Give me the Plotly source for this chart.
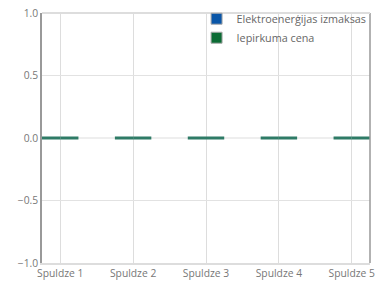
import plotly.graph_objects as go

categories = ["Spuldze 1", "Spuldze 2", "Spuldze 3", "Spuldze 4", "Spuldze 5"]
elektro = [0, 0, 0, 0, 0]
iepirkuma = [0, 0, 0, 0, 0]
series_names = ["Elektroenerģijas izmaksas", "Iepirkuma cena"]
series_colors = ["#0a56a8", "#0b6b34"]
y_ticks = [-1.0, -0.5, 0.0, 0.5, 1.0]

fig = go.Figure()
for vals in (elektro, iepirkuma):
    fig.add_trace(go.Bar(
        x=categories, y=vals, showlegend=False,
        marker=dict(color="#2e7b66", line=dict(color="#2e7b66", width=3)),
        hoverinfo="skip",
    ))
for name, col in zip(series_names, series_colors):
    fig.add_trace(go.Scatter(
        x=[None], y=[None], mode="markers", name=name,
        marker=dict(symbol="square", size=11, color=col,
                    line=dict(color="#aaaaaa", width=1)),
    ))

fig.update_layout(
    width=378, height=281,
    margin=dict(l=42, r=8, t=13, b=18, autoexpand=False),
    paper_bgcolor="white", plot_bgcolor="white",
    font=dict(family="Open Sans", size=10.3, color="#777777"),
    barmode="group", bargap=0.5, bargroupgap=0,
    showlegend=True,
    legend=dict(x=0.983, y=0.985, xref="container", yref="container",
                xanchor="right", yanchor="top",
                bgcolor="rgba(255,255,255,0)", font=dict(size=10.8, color="#666666"),
                itemwidth=30, tracegroupgap=0),
    xaxis=dict(showgrid=True, gridcolor="#dddddd", gridwidth=1,
               showline=True, linecolor="#dddddd", linewidth=2, mirror=False,
               ticks="", tickfont=dict(size=10.3, color="#777777"),
               ticklabeloverflow="allow", automargin=False,
               range=[-0.25, 4.25]),
    yaxis=dict(range=[-1, 1], tickvals=y_ticks, tickformat=".1f",
               showgrid=True, gridcolor="#e2e2e2", zeroline=True,
               zerolinecolor="#eeeeee", zerolinewidth=2,
               showline=True, linecolor="#999999", linewidth=1.5,
               ticklabeloverflow="allow", automargin=False,
               ticks="", tickfont=dict(size=10.3, color="#777777")),
)
fig.add_shape(type="line", xref="paper", yref="paper", x0=1, x1=1, y0=0, y1=1,
              line=dict(color="#999999", width=1.5))
fig.add_shape(type="line", xref="paper", yref="paper", x0=0, x1=1, y0=1, y1=1,
              line=dict(color="#dddddd", width=2))

fig.write_html("out.html",
               config={"displayModeBar": False},
               post_script="document.body.style.margin='0';document.body.style.overflow='hidden';")
